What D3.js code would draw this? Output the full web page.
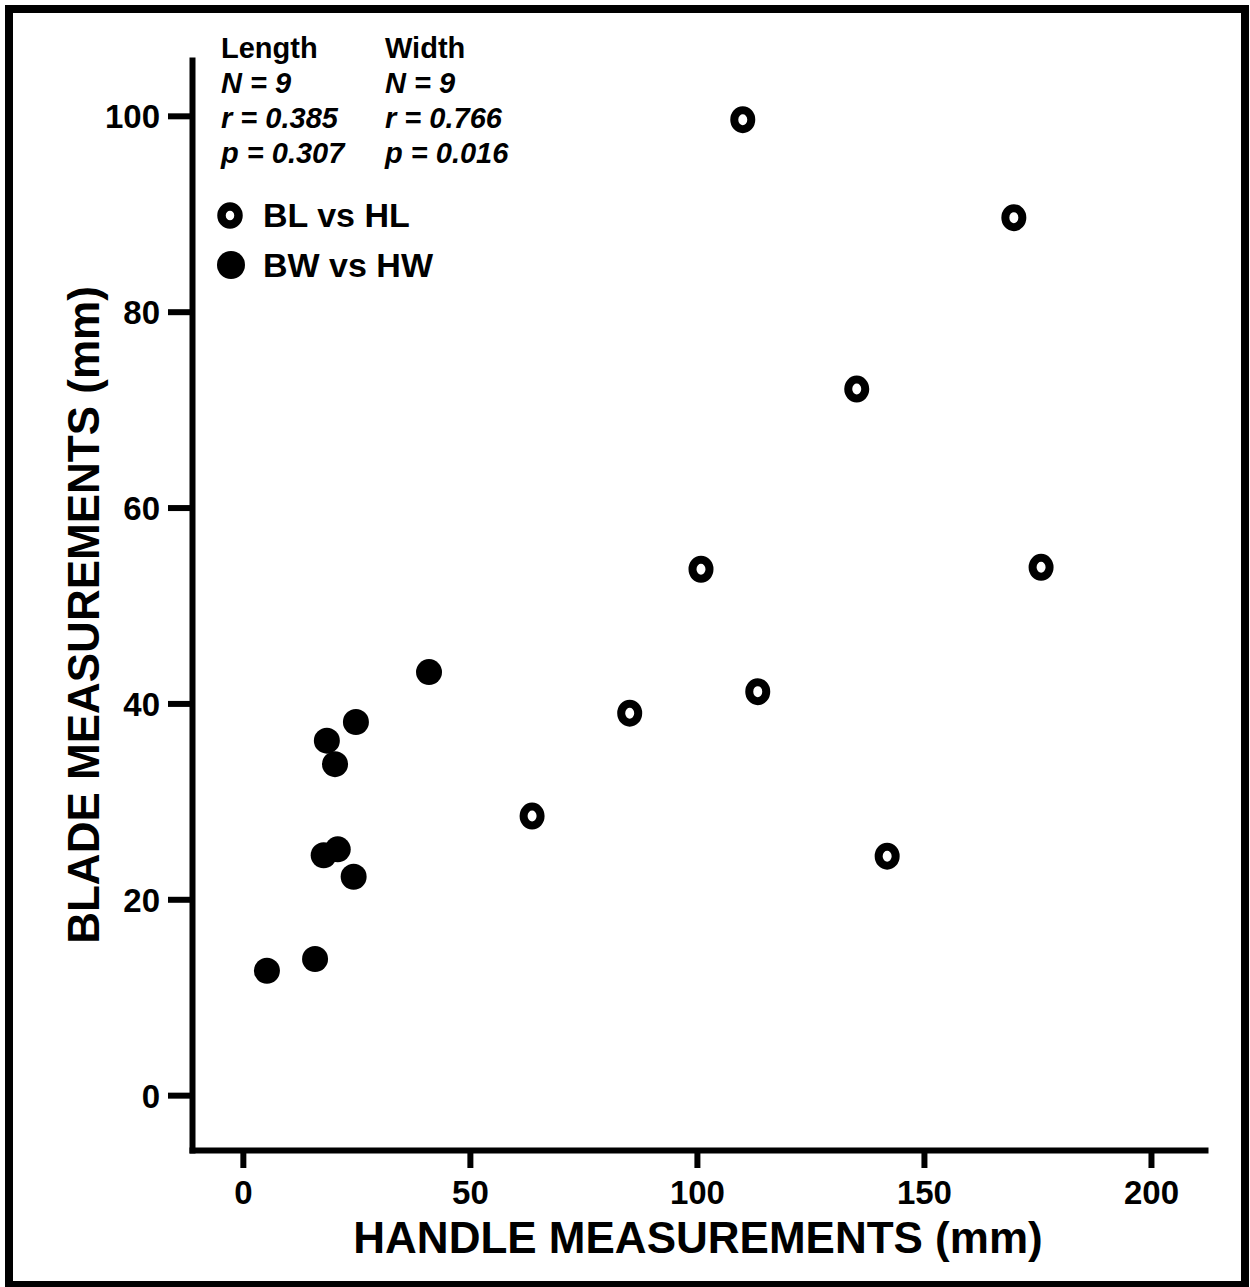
<!DOCTYPE html>
<html>
<head>
<meta charset="utf-8">
<script src="https://cdn.jsdelivr.net/npm/d3@7"></script>
<style>
  body { margin: 0; background: #fff; }
  svg { display: block; font-family: "Liberation Sans", Arial, sans-serif; }
</style>
</head>
<body>
<div id="chart"></div>
<script>
// handle length (x) vs blade length (y), mm
var blHL_x = [110.1, 169.8, 135.2, 100.9, 175.8, 113.4, 85.2, 63.7, 141.9];
var blHL_y = [99.6, 89.6, 72.1, 53.7, 53.9, 41.2, 39.0, 28.5, 24.4];
// handle width (x) vs blade width (y), mm
var bwHW_x = [41.0, 24.9, 18.5, 20.3, 20.9, 17.8, 24.4, 15.9, 5.3];
var bwHW_y = [43.2, 38.1, 36.2, 33.8, 25.1, 24.5, 22.3, 13.9, 12.7];

var xTicks = [0, 50, 100, 150, 200];
var yTicks = [0, 20, 40, 60, 80, 100];

var statLabels = ['Length', 'Width'];
var statN = ['N = 9', 'N = 9'];
var statR = ['r = 0.385', 'r = 0.766'];
var statP = ['p = 0.307', 'p = 0.016'];

var legendLabels = ['BL vs HL', 'BW vs HW'];

var W = 1250, H = 1287;
var margin = {top: 60, right: 45, bottom: 137, left: 192},
    width = W - margin.left - margin.right,
    height = H - margin.top - margin.bottom;

var svg = d3.select('#chart').append('svg')
    .attr('width', W)
    .attr('height', H);

// outer frame
svg.append('rect')
    .attr('x', 9).attr('y', 9)
    .attr('width', 1236).attr('height', 1276)
    .attr('fill', 'none')
    .attr('stroke', '#000')
    .attr('stroke-width', 8);

var g = svg.append('g')
    .attr('transform', 'translate(' + margin.left + ',' + margin.top + ')');

var xScale = d3.scaleLinear()
    .domain([-11.2, 211.9])
    .range([0, width]);

var yScale = d3.scaleLinear()
    .domain([-5.6, 105.7])
    .range([height, 0]);

// x axis
var xAxis = g.append('g')
    .attr('transform', 'translate(0,' + height + ')')
    .call(d3.axisBottom(xScale).tickValues(xTicks).tickSize(18).tickPadding(8).tickSizeOuter(0));

// y axis
var yAxis = g.append('g')
    .call(d3.axisLeft(yScale).tickValues(yTicks).tickSize(24).tickPadding(8).tickSizeOuter(0));

[xAxis, yAxis].forEach(function (ax) {
    ax.select('.domain').attr('stroke', '#000').attr('stroke-width', 6).attr('stroke-linecap', 'square');
    ax.selectAll('.tick line').attr('stroke', '#000').attr('stroke-width', 6);
    ax.selectAll('.tick text')
        .attr('fill', '#000')
        .style('font-size', '33px')
        .style('font-weight', 'bold')
        .style('font-family', '"Liberation Sans", Arial, sans-serif');
});
yAxis.selectAll('.tick text').attr('dy', '0.36em');
xAxis.selectAll('.tick text').attr('dy', '0.85em');

// axis titles
svg.append('text')
    .attr('x', 698)
    .attr('y', 1253)
    .attr('text-anchor', 'middle')
    .style('font-size', '44px')
    .style('font-weight', 'bold')
    .text('HANDLE MEASUREMENTS (mm)');

svg.append('text')
    .attr('transform', 'translate(99,615) rotate(-90)')
    .attr('text-anchor', 'middle')
    .style('font-size', '44px')
    .style('font-weight', 'bold')
    .text('BLADE MEASUREMENTS (mm)');

// stats block
var statX = [221, 385];
statLabels.forEach(function (lab, i) {
    var t = svg.append('g').attr('transform', 'translate(' + statX[i] + ',0)');
    t.append('text').attr('y', 58).style('font-size', '29px').style('font-weight', 'bold').text(lab);
    [statN[i], statR[i], statP[i]].forEach(function (s, j) {
        t.append('text')
            .attr('y', 93 + j * 35)
            .style('font-size', '29px')
            .style('font-weight', 'bold')
            .style('font-style', 'italic')
            .text(s);
    });
});

// data points
var blData = blHL_x.map(function (x, i) { return {x: x, y: blHL_y[i]}; });
var bwData = bwHW_x.map(function (x, i) { return {x: x, y: bwHW_y[i]}; });

g.selectAll('.bw')
    .data(bwData)
    .enter().append('circle')
    .attr('class', 'bw')
    .attr('cx', function (d) { return xScale(d.x); })
    .attr('cy', function (d) { return yScale(d.y); })
    .attr('r', 13)
    .attr('fill', '#000');

// BL vs HL drawn as bold "O" rings
g.selectAll('.bl')
    .data(blData)
    .enter().append('ellipse')
    .attr('class', 'bl')
    .attr('cx', function (d) { return xScale(d.x); })
    .attr('cy', function (d) { return yScale(d.y); })
    .attr('rx', 8.5)
    .attr('ry', 9.5)
    .attr('fill', 'none')
    .attr('stroke', '#000')
    .attr('stroke-width', 8);

// legend
var leg = svg.append('g');
leg.append('ellipse')
    .attr('cx', 230).attr('cy', 215.5)
    .attr('rx', 8.5).attr('ry', 9)
    .attr('fill', 'none').attr('stroke', '#000').attr('stroke-width', 8.5);
leg.append('circle')
    .attr('cx', 231).attr('cy', 265)
    .attr('r', 14).attr('fill', '#000');
legendLabels.forEach(function (lab, i) {
    leg.append('text')
        .attr('x', 263)
        .attr('y', 227 + i * 50)
        .style('font-size', '34px')
        .style('font-weight', 'bold')
        .text(lab);
});
</script>
</body>
</html>
